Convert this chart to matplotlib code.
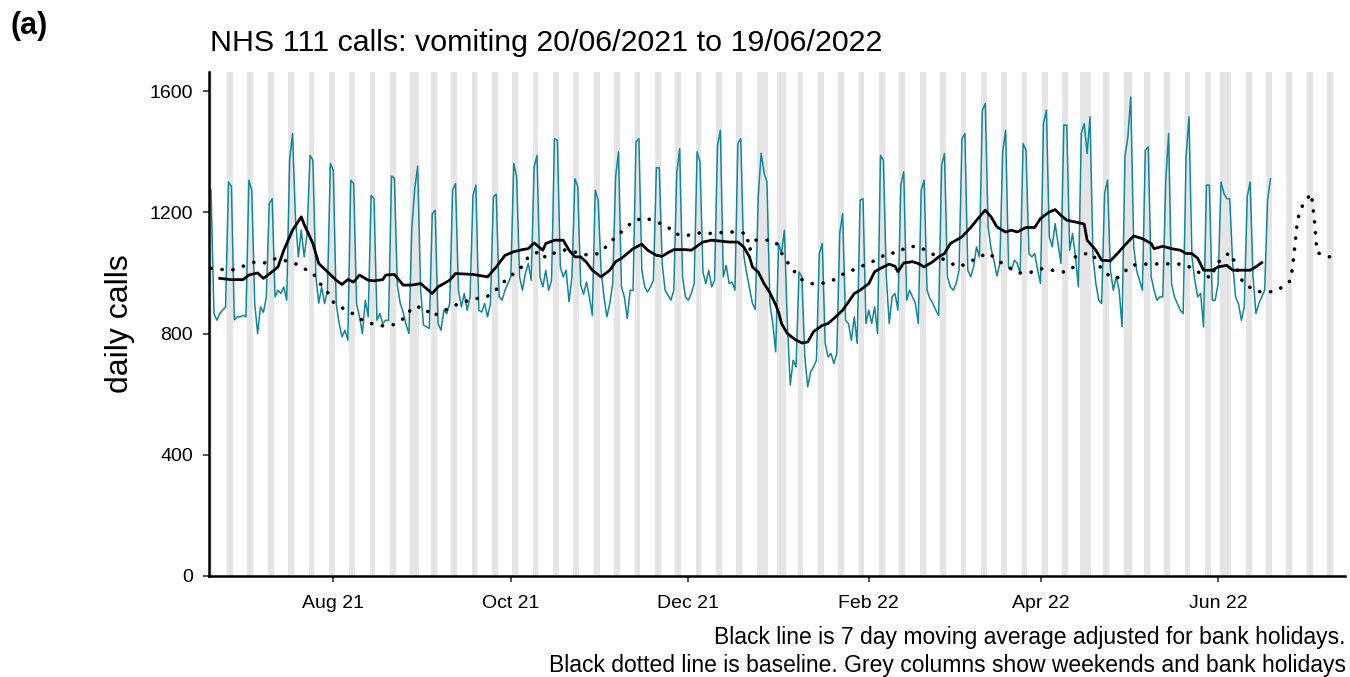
import numpy as np
import matplotlib
matplotlib.use("Agg")
import matplotlib.pyplot as plt
import matplotlib.dates as mdates

plt.rcParams['font.family'] = ['Liberation Sans', 'DejaVu Sans']

# ---------------- data ----------------
start_date = np.datetime64("2021-06-20")

# daily NHS 111 vomiting calls, 20/06/2021 (Sun) then 52 weeks Mon..Sun
calls_first = [1273]
calls_weeks = [
    [866, 844, 866, 877, 888, 1300, 1285],
    [845, 855, 855, 860, 855, 1306, 1273],
    [900, 800, 888, 870, 920, 1229, 1245],
    [921, 943, 932, 954, 910, 1372, 1460],
    [1180, 1053, 1141, 1053, 1130, 1388, 1372],
    [990, 900, 954, 899, 940, 1361, 1339],
    [899, 833, 789, 811, 778, 1306, 1295],
    [899, 855, 800, 910, 855, 1256, 1245],
    [844, 866, 833, 844, 844, 1320, 1312],
    [960, 900, 870, 830, 800, 1150, 1280],
    [1352, 943, 828, 822, 817, 1196, 1207],
    [833, 811, 877, 866, 899, 1273, 1295],
    [943, 888, 932, 877, 921, 1256, 1290],
    [877, 871, 899, 855, 899, 1251, 1260],
    [921, 910, 943, 965, 987, 1361, 1317],
    [987, 943, 998, 1031, 976, 1350, 1388],
    [987, 954, 1009, 943, 976, 1443, 1438],
    [1020, 987, 1009, 905, 987, 1311, 1284],
    [960, 930, 970, 920, 860, 1273, 1240],
    [1009, 921, 855, 899, 965, 1317, 1400],
    [954, 921, 850, 943, 943, 1433, 1443],
    [1009, 954, 937, 954, 976, 1347, 1347],
    [1031, 943, 927, 910, 943, 1328, 1410],
    [987, 921, 910, 932, 965, 1400, 1366],
    [1003, 965, 1009, 954, 976, 1421, 1471],
    [987, 1025, 965, 970, 943, 1427, 1443],
    [1060, 1000, 950, 900, 880, 1250, 1395],
    [1330, 1300, 899, 833, 740, 1097, 1064],
    [1141, 833, 630, 712, 690, 1003, 987],
    [723, 624, 673, 690, 712, 1064, 1097],
    [767, 723, 734, 701, 734, 1130, 1196],
    [844, 833, 778, 855, 767, 1240, 1245],
    [833, 877, 833, 888, 800, 1388, 1372],
    [987, 833, 921, 932, 877, 1290, 1334],
    [910, 943, 921, 899, 833, 1273, 1306],
    [943, 915, 899, 877, 860, 1355, 1394],
    [987, 954, 943, 965, 1009, 1443, 1460],
    [1009, 987, 1020, 1086, 1053, 1537, 1559],
    [1150, 1080, 1040, 990, 1030, 1400, 1471],
    [1020, 1009, 1042, 1031, 998, 1427, 1405],
    [1064, 1053, 1064, 1009, 965, 1493, 1537],
    [1119, 1086, 1163, 1097, 1031, 1488, 1488],
    [1075, 1130, 1053, 954, 1460, 1493, 1394],
    [1515, 1053, 965, 910, 899, 1262, 1306],
    [1009, 943, 987, 943, 822, 1383, 1449],
    [1581, 1086, 1009, 976, 943, 1405, 1416],
    [987, 943, 910, 921, 921, 1300, 1460],
    [965, 921, 899, 877, 866, 1383, 1515],
    [1053, 976, 921, 932, 822, 1290, 1290],
    [910, 910, 965, 1300, 1262, 1245, 1245],
    [1031, 921, 899, 844, 888, 1251, 1300],
    [987, 866, 899, 921, 943, 1240, 1311],
]

# 7 day moving average (day offset from start, value)
ma_days = [3, 7, 11, 13, 16, 18, 21, 23, 25, 28, 31, 32, 35, 37, 40, 43, 45, 47, 49,
           51, 54, 56, 59, 60, 63, 66, 69, 72, 76, 78, 82, 84, 90, 95, 98, 101, 104,
           107, 109, 111, 114, 115, 118, 121, 123, 125, 127, 129, 131, 134, 137, 139,
           141, 145, 148, 150, 153, 155, 157, 159, 163, 165, 169, 172, 174, 178, 181,
           183, 185, 186, 188, 190, 192, 194, 195, 196, 198, 201, 203, 205, 207, 210,
           212, 214, 217, 219, 221, 223, 226, 228, 230, 233, 235, 236, 238, 241, 243,
           245, 248, 250, 252, 254, 258, 261, 264, 266, 268, 270, 273, 275, 277, 280,
           283, 285, 288, 290, 292, 294, 297, 300, 301, 304, 306, 309, 312, 314, 317,
           320, 323, 324, 327, 330, 333, 335, 337, 339, 341, 344, 346, 349, 351, 354,
           357, 359, 361]
ma_values = [982, 978, 978, 993, 1000, 982, 1004, 1020, 1075, 1141, 1185, 1160, 1097,
             1031, 1004, 976, 962, 978, 970, 993, 976, 974, 978, 993, 995, 960, 960,
             965, 932, 954, 976, 998, 995, 987, 1020, 1058, 1070, 1077, 1080, 1099,
             1075, 1097, 1108, 1108, 1075, 1053, 1053, 1035, 1009, 987, 1009, 1037,
             1048, 1080, 1095, 1075, 1058, 1055, 1067, 1077, 1077, 1075, 1102, 1108,
             1106, 1102, 1102, 1086, 1053, 1020, 1003, 965, 935, 895, 870, 833, 800,
             778, 769, 772, 806, 827, 833, 850, 877, 904, 932, 943, 965, 1004, 1015,
             1029, 1022, 1004, 1033, 1037, 1031, 1020, 1037, 1053, 1064, 1097, 1119,
             1150, 1185, 1207, 1185, 1152, 1135, 1141, 1135, 1150, 1150, 1180, 1201,
             1209, 1190, 1174, 1168, 1161, 1108, 1075, 1042, 1040, 1070, 1092, 1122,
             1113, 1097, 1080, 1088, 1080, 1075, 1064, 1064, 1048, 1009, 1009, 1020,
             1025, 1009, 1009, 1009, 1020, 1034]

# baseline (day offset from start, value)
base_days = [0, 3, 7, 11, 15, 19, 22, 28, 32, 35, 37, 40, 42, 46, 49, 52, 56, 60, 63,
             67, 69, 73, 76, 80, 83, 87, 91, 95, 98, 101, 104, 107, 109, 113, 115, 118,
             122, 126, 130, 133, 136, 139, 142, 145, 149, 153, 157, 159, 163, 167, 171,
             175, 179, 182, 184, 185, 187, 191, 194, 196, 198, 200, 203, 207, 211, 215,
             218, 222, 225, 229, 232, 236, 239, 243, 247, 250, 254, 257, 260, 264, 267,
             271, 274, 278, 281, 285, 289, 293, 296, 297, 299, 303, 305, 308, 311, 313,
             316, 320, 324, 327, 331, 334, 338, 341, 344, 345, 348, 350, 352, 353, 355,
             359, 362, 366, 370, 371, 372, 373, 374, 376, 378, 379, 380, 384, 388]
base_values = [1015, 1012, 1009, 1022, 1036, 1033, 1047, 1036, 1014, 1000, 970, 937,
               904, 879, 864, 844, 830, 824, 830, 855, 886, 888, 857, 875, 890, 905,
               915, 923, 945, 974, 998, 1022, 1053, 1072, 1050, 1066, 1077, 1066, 1058,
               1064, 1089, 1119, 1143, 1171, 1182, 1169, 1152, 1130, 1122, 1132, 1130,
               1133, 1135, 1132, 1131, 1075, 1108, 1108, 1103, 1066, 1036, 1009, 978,
               963, 967, 981, 1002, 1014, 1029, 1044, 1064, 1067, 1086, 1088, 1066,
               1053, 1033, 1020, 1033, 1053, 1066, 1037, 1018, 1000, 1000, 1014, 1009,
               1003, 1014, 1053, 1064, 1062, 1025, 995, 981, 995, 1025, 1029, 1029,
               1031, 1029, 1029, 1012, 990, 985, 1025, 1053, 1067, 1031, 995, 963, 941,
               935, 941, 965, 978, 1055, 1150, 1205, 1238, 1262, 1185, 1067, 1053, 1056]

bank_holidays = ["2021-08-30", "2021-12-27", "2021-12-28", "2022-01-03",
                 "2022-04-15", "2022-04-18", "2022-05-02", "2022-06-02", "2022-06-03"]

tick_dates = ["2021-08-01", "2021-10-01", "2021-12-01", "2022-02-01",
              "2022-04-01", "2022-06-01"]
tick_labels = ["Aug 21", "Oct 21", "Dec 21", "Feb 22", "Apr 22", "Jun 22"]
y_ticks = [0, 400, 800, 1200, 1600]

title = "NHS 111 calls: vomiting 20/06/2021 to 19/06/2022"
caption1 = "Black line is 7 day moving average adjusted for bank holidays."
caption2 = "Black dotted line is baseline. Grey columns show weekends and bank holidays"

# ---------------- derived ----------------
calls = calls_first + [v for w in calls_weeks for v in w]
call_dates = start_date + np.arange(len(calls))
x_calls = mdates.date2num(call_dates.astype("datetime64[D]").astype(object))
x_ma = mdates.date2num((start_date + np.array(ma_days)).astype(object))
x_base = mdates.date2num((start_date + np.array(base_days)).astype(object))
x0 = mdates.date2num(start_date.astype(object))

W, H = 1350, 677
fig = plt.figure(figsize=(W / 100, H / 100), dpi=100)
ax = fig.add_axes([209 / W, 1 - 576 / H, (1345 - 209) / W, (576 - 72) / H])

xmin, xmax = x0 - 0.7, x0 + 389.6
# grey columns: weekends and bank holidays
all_days = start_date + np.arange(-2, 392)
bh = set(np.array(bank_holidays, dtype="datetime64[D]").tolist())
for d in all_days:
    dd = d.astype(object)
    if dd.weekday() >= 5 or dd in bh:
        xd = mdates.date2num(dd)
        ax.axvspan(xd - 0.5, xd + 0.5, color="#E5E5E5", lw=0, zorder=0)

ax.plot(x_calls, calls, color="#0E879A", lw=1.1, zorder=2)
ax.plot(x_base, base_values, color="black", lw=2.6, zorder=3,
        linestyle=(0, (0.05, 3.0)), dash_capstyle="round")
ax.plot(x_ma, ma_values, color="black", lw=2.0, zorder=4)

ax.set_xlim(xmin, xmax)
ax.set_ylim(0, 1663)
ax.set_yticks(y_ticks)
ax.set_yticklabels([str(v) for v in y_ticks])
ax.set_xticks(mdates.date2num(np.array(tick_dates, dtype="datetime64[D]").astype(object)))
ax.set_xticklabels(tick_labels)

for s in ["top", "right"]:
    ax.spines[s].set_visible(False)
for s in ["left", "bottom"]:
    ax.spines[s].set_linewidth(1.8)
    ax.spines[s].set_color("black")
ax.tick_params(axis="both", length=4.5, width=1.2, color="#333333",
               labelsize=14, labelcolor="black")
ax.tick_params(axis="y", pad=7)
ax.tick_params(axis="x", pad=9)

ax.set_ylabel("daily calls", fontsize=23, labelpad=0)
ax.yaxis.set_label_coords(-0.065, 0.5)

fig.text(10 / W, 1 - 34 / H, "(a)", fontsize=22, fontweight="bold", ha="left", va="baseline")
fig.text(210 / W, 1 - 51 / H, title, fontsize=21.9, ha="left", va="baseline")
fig.text(1346 / W, 1 - 644 / H, caption1, fontsize=16.5, ha="right", va="baseline")
fig.text(1346 / W, 1 - 672 / H, caption2, fontsize=16.5, ha="right", va="baseline")

fig.savefig("out.png", dpi=100)
